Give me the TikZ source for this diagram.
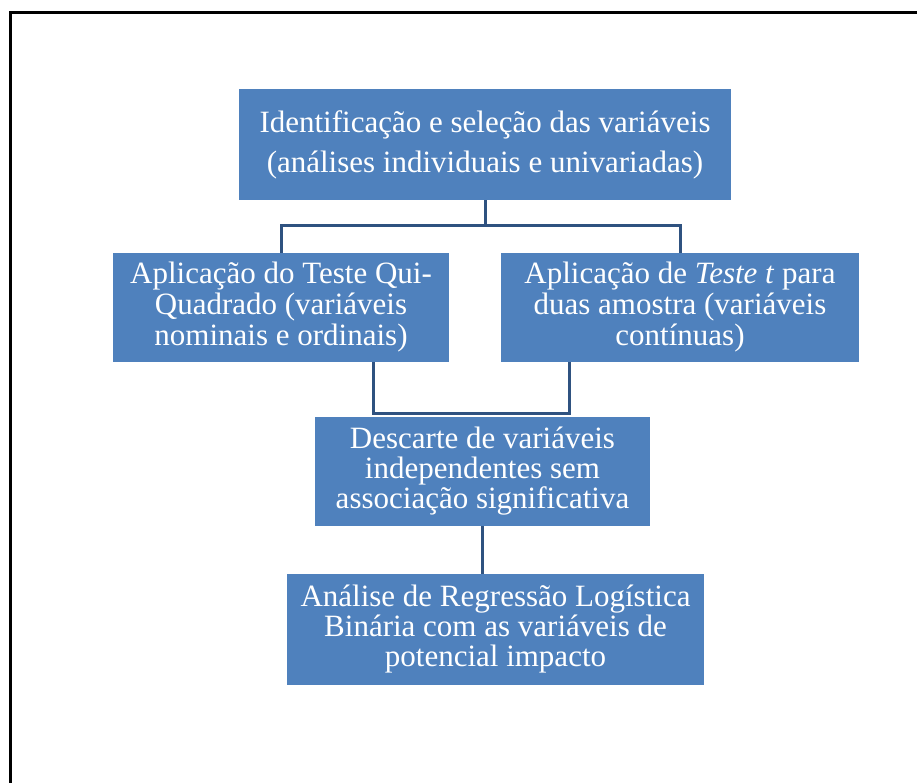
\documentclass[tikz,border=0pt]{standalone}
\usepackage{fontspec}
\setmainfont{Liberation Serif}
\definecolor{boxblue}{HTML}{4F81BD}
\definecolor{linkblue}{HTML}{2F5280}
\begin{document}
\begin{tikzpicture}[x=1pt,y=-1pt,
  box/.style={rectangle, fill=boxblue, draw=none, text=white, align=center, inner sep=0pt},
  link/.style={draw=linkblue, line width=3pt}]
\useasboundingbox (0,0) rectangle (917,783);
\fill[white] (0,0) rectangle (917,783);
\draw[line width=3pt, black] (10,783) -- (10,13) -- (917,13);

\node[box, minimum width=492pt, minimum height=111pt, font=\fontsize{31}{40}\selectfont] (top) at (485,144.5)
  {Identificação e seleção das variáveis\\(análises individuais e univariadas)};
\node[box, minimum width=336pt, minimum height=109pt, font=\fontsize{31}{31}\selectfont] (left) at (281,307.5)
  {Aplicação do Teste Qui-\\Quadrado (variáveis\\nominais e ordinais)};
\node[box, minimum width=358pt, minimum height=109pt, font=\fontsize{31}{31}\selectfont] (right) at (680,307.5)
  {Aplicação de \textit{Teste t} para\\duas amostra (variáveis\\contínuas)};
\node[box, minimum width=335pt, minimum height=109pt, font=\fontsize{31}{30}\selectfont] (mid) at (482.5,471.5)
  {Descarte de variáveis\\independentes sem\\associação significativa};
\node[box, minimum width=417pt, minimum height=111pt, font=\fontsize{31}{30}\selectfont] (bot) at (495.5,629.5)
  {Análise de Regressão Logística\\Binária com as variáveis de\\potencial impacto};

\coordinate (j) at (485.5,226);
\coordinate (a) at (373,413);
\coordinate (b) at (569,413);

\draw[link] (top.south) -- (top.south |- j);
\draw[link] (left.north) |- (j) -| (right.north);
\draw[link] (left.south -| a) -- (a) -- (b) -- (right.south -| b);
\draw[link] (mid.south) -- (mid.south |- bot.north);
\end{tikzpicture}
\end{document}
